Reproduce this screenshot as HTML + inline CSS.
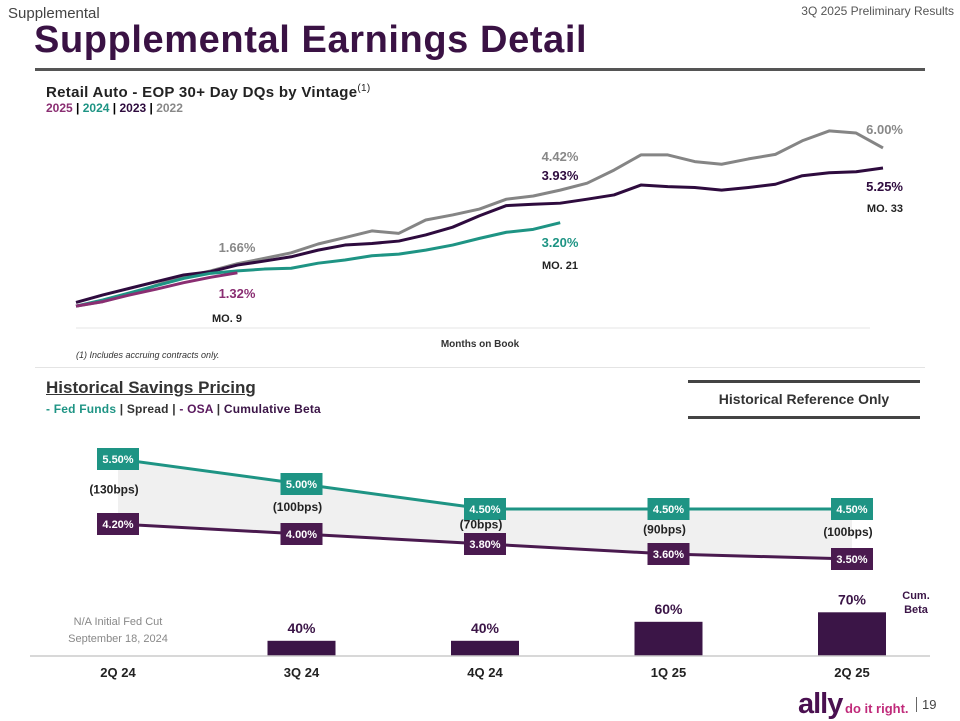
<!DOCTYPE html>
<html><head><meta charset="utf-8"><style>
body{margin:0;width:960px;height:720px;background:#fff;font-family:"Liberation Sans",sans-serif;overflow:hidden;position:relative}
.a{position:absolute;white-space:nowrap}
</style></head><body>
<div class="a" style="left:8px;top:5px;font-size:15px;color:#444">Supplemental</div>
<div class="a" style="right:6px;top:4px;font-size:12px;color:#555">3Q 2025 Preliminary Results</div>
<div class="a" style="left:34px;top:19px;font-size:38px;font-weight:bold;color:#3a1244;letter-spacing:0.6px">Supplemental Earnings Detail</div>
<div class="a" style="left:35px;top:68px;width:890px;height:3px;background:#555"></div>
<div class="a" style="left:46px;top:83px;font-size:15px;font-weight:bold;color:#222;letter-spacing:0.3px">Retail Auto - EOP 30+ Day DQs by Vintage<sup style="font-size:10px;font-weight:normal">(1)</sup></div>
<div class="a" style="left:46px;top:101px;font-size:12px;font-weight:bold"><span style="color:#8a2e72">2025</span> | <span style="color:#1e9484">2024</span> | <span style="color:#2e0b3e">2023</span> | <span style="color:#888">2022</span></div>
<div class="a" style="left:76px;top:350px;font-size:9px;font-style:italic;color:#333">(1) Includes accruing contracts only.</div>
<div class="a" style="left:35px;top:367px;width:890px;height:1px;background:#e4e4e4"></div>
<div class="a" style="left:46px;top:378px;font-size:17px;font-weight:bold;color:#333;text-decoration:underline">Historical Savings Pricing</div>
<div class="a" style="left:46px;top:402px;font-size:12px;font-weight:bold;color:#333;letter-spacing:0.2px"><span style="color:#1e9484">- Fed Funds</span> | Spread | <span style="color:#5a1a5e">- OSA</span> | <span style="color:#3b1547">Cumulative Beta</span></div>
<div class="a" style="left:688px;top:380px;width:232px;height:33px;border-top:3px solid #444;border-bottom:3px solid #444;text-align:center;line-height:33px;font-size:14px;font-weight:bold;color:#333">Historical Reference Only</div>
<div class="a" style="left:798px;top:688px;font-size:29px;font-weight:bold;color:#4a1050;letter-spacing:-1px">ally</div>
<div class="a" style="left:845px;top:701px;font-size:13px;font-weight:bold;color:#c02a7a">do it right.</div>
<div class="a" style="left:916px;top:697px;font-size:13px;color:#444;border-left:1px solid #666;padding-left:5px">19</div>
<svg id="c" class="a" style="left:0;top:0" width="960" height="720"></svg>
<script>
const months=[3,4,5,6,7,8,9,10,11,12,13,14,15,16,17,18,19,20,21,22,23,24,25,26,27,28,29,30,31,32,33];
const v2022=[0.07,0.24,0.51,0.86,1.17,1.39,1.66,1.86,2.07,2.40,2.64,2.89,2.80,3.30,3.49,3.71,4.08,4.20,4.42,4.68,5.17,5.74,5.74,5.49,5.39,5.59,5.76,6.27,6.64,6.56,6.00];
const v2023=[0.21,0.49,0.74,0.99,1.24,1.36,1.61,1.76,1.92,2.17,2.36,2.42,2.51,2.74,3.03,3.46,3.84,3.89,3.93,4.08,4.24,4.61,4.55,4.52,4.42,4.52,4.64,4.96,5.07,5.11,5.25];
const v2024=[0.07,0.30,0.57,0.84,1.11,1.30,1.39,1.46,1.49,1.68,1.80,1.96,2.02,2.17,2.36,2.61,2.84,2.95,3.20];
const v2025=[0.07,0.24,0.49,0.71,0.95,1.15,1.32];
const quarters=["2Q 24","3Q 24","4Q 24","1Q 25","2Q 25"];
const fedFunds=[5.50,5.00,4.50,4.50,4.50];
const osa=[4.20,4.00,3.80,3.60,3.50];
const spreads=["(130bps)","(100bps)","(70bps)","(90bps)","(100bps)"];
const beta=[null,40,40,60,70];
const svg=document.getElementById('c');const NS='http://www.w3.org/2000/svg';
function mk(t,a,p){const e=document.createElementNS(NS,t);for(const k in a)e.setAttribute(k,a[k]);(p||svg).appendChild(e);return e;}
function tx(s,x,y,o){const e=mk('text',Object.assign({x:x,y:y,'font-family':'Liberation Sans, sans-serif','font-size':12,'font-weight':'bold','text-anchor':'middle'},o));e.textContent=s;return e;}
const xm=m=>76+(m-3)*26.9, ym=v=>308-v*26.67;
let e=mk('line',{x1:76,y1:328,x2:870,y2:328,stroke:'#e6e6e6','stroke-width':1});

e=tx('Months on Book',480,347,{'font-size':10,fill:'#333'});

[[v2022,'#858585','line-2022'],[v2023,'#2e0b3e','line-2023'],[v2024,'#1e9484','line-2024'],[v2025,'#8a2e72','line-2025']].forEach(([d,c,n])=>{
 const p=mk('polyline',{points:d.map((v,i)=>xm(months[i])+','+ym(v)).join(' '),fill:'none',stroke:c,'stroke-width':3,'stroke-linejoin':'round'});
 });
[['6.00%',903,134,'#888','end'],['5.25%',903,191,'#2e0b3e','end'],['MO. 33',903,212,'#222','end'],['4.42%',560,161,'#888','middle'],['3.93%',560,180,'#2e0b3e','middle'],['3.20%',560,247,'#1e9484','middle'],['MO. 21',560,269,'#222','middle'],['1.66%',237,252,'#888','middle'],['1.32%',237,298,'#8a2e72','middle'],['MO. 9',227,322,'#222','middle']].forEach(l=>{
 const t=tx(l[0],l[1],l[2],{fill:l[3],'text-anchor':l[4],'font-size':l[0].startsWith('MO')?11:13});
 });
const xq=i=>118+i*183.5, yr=v=>459+(5.5-v)*50;
const area=mk('polygon',{points:fedFunds.map((v,i)=>xq(i)+','+yr(v)).concat(osa.map((v,i)=>xq(i)+','+yr(v)).reverse()).join(' '),fill:'#f0f0f0'});

[[fedFunds,'#1e9484','fed-funds-line'],[osa,'#4a1a4f','osa-line']].forEach(([d,c,n])=>{
 const p=mk('polyline',{points:d.map((v,i)=>xq(i)+','+yr(v)).join(' '),fill:'none',stroke:c,'stroke-width':3});
 });
[[fedFunds,'#1e9484','fed-funds-box'],[osa,'#4a1a4f','osa-box']].forEach(([d,c,n])=>d.forEach((v,i)=>{
 const r=mk('rect',{x:xq(i)-21,y:yr(v)-11,width:42,height:22,fill:c});
 
 const t=tx(v.toFixed(2)+'%',xq(i),yr(v)+4,{fill:'#fff','font-size':11});
 }));
spreads.forEach((s,i)=>{const t=tx(s,xq(i)-4,yr((fedFunds[i]+osa[i])/2)+2,{fill:'#222','font-size':12});
 });
const base=656, hb=v=>(v-24)*0.95;
beta.forEach((v,i)=>{if(v==null)return;
 const r=mk('rect',{x:xq(i)-34,y:base-hb(v),width:68,height:hb(v),fill:'#3b1547'});
 
 const t=tx(v+'%',xq(i),base-hb(v)-8,{fill:'#3b1547','font-size':14});
 });
e=mk('line',{x1:30,y1:base,x2:930,y2:base,stroke:'#ccc','stroke-width':1.5});

quarters.forEach((q,i)=>{const t=tx(q,xq(i),677,{fill:'#222','font-size':13});
 });
e=tx('N/A Initial Fed Cut',118,625,{'font-weight':'normal',fill:'#888','font-size':11});

e=tx('September 18, 2024',118,642,{'font-weight':'normal',fill:'#888','font-size':11});

e=tx('Cum.',916,599,{fill:'#3b1547','font-size':11});

e=tx('Beta',916,613,{fill:'#3b1547','font-size':11});

</script>
</body></html>
